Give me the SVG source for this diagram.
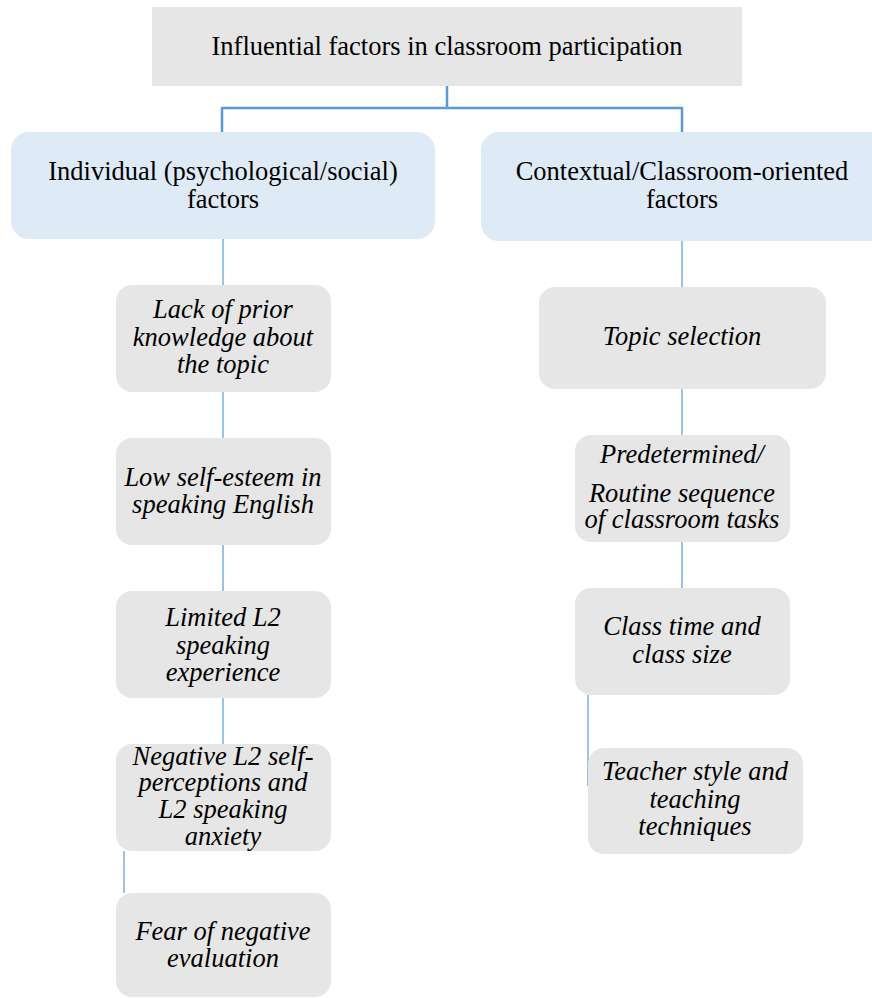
<svg xmlns="http://www.w3.org/2000/svg" width="872" height="998" viewBox="0 0 872 998">
<style>
.gray{fill:#e6e6e6}
.blue{fill:#deeaf6}
.c1{stroke:#5b9bd5;stroke-width:2.5;fill:none}
.c2{stroke:#9dc3e6;stroke-width:2;fill:none}
</style>
<rect width="872" height="998" fill="#fff"/>
<g id="connectors">
<path class="c1" d="M447 86V108M222 108H682M222 107V132M682 107V132"/>
<path class="c2" d="M223 239V285M223 392V438M223 545V591M223 698V744M124 851V893"/>
<path class="c2" d="M682 241V287M682 389V435M682 542V588M588 695V786"/>
</g>
<g id="root">
<rect class="gray" x="152" y="7" width="590" height="79"/>
<text font-family="Liberation Serif" font-size="26.5" text-anchor="middle" x="447" y="55">Influential factors in classroom participation</text>
</g>
<g id="individual">
<rect class="blue" x="11" y="132" width="424" height="107" rx="18"/>
<text font-family="Liberation Serif" font-size="26.5" text-anchor="middle" x="223" y="180">Individual (psychological/social)</text>
<text font-family="Liberation Serif" font-size="26.5" text-anchor="middle" x="223" y="208">factors</text>
</g>
<g id="contextual">
<rect class="blue" x="481" y="132" width="410" height="109" rx="18"/>
<text font-family="Liberation Serif" font-size="26.5" text-anchor="middle" x="682" y="180">Contextual/Classroom-oriented</text>
<text font-family="Liberation Serif" font-size="26.5" text-anchor="middle" x="682" y="208">factors</text>
</g>
<g id="lack">
<rect class="gray" x="116" y="285" width="215" height="107" rx="16"/>
<text font-family="Liberation Serif" font-style="italic" font-size="26.5" text-anchor="middle" x="223" y="318">Lack of prior</text>
<text font-family="Liberation Serif" font-style="italic" font-size="26.5" text-anchor="middle" x="223" y="346">knowledge about</text>
<text font-family="Liberation Serif" font-style="italic" font-size="26.5" text-anchor="middle" x="223" y="373">the topic</text>
</g>
<g id="lowesteem">
<rect class="gray" x="116" y="438" width="215" height="107" rx="16"/>
<text font-family="Liberation Serif" font-style="italic" font-size="26.5" text-anchor="middle" x="223" y="486">Low self-esteem in</text>
<text font-family="Liberation Serif" font-style="italic" font-size="26.5" text-anchor="middle" x="223" y="513">speaking English</text>
</g>
<g id="limited">
<rect class="gray" x="116" y="591" width="215" height="107" rx="16"/>
<text font-family="Liberation Serif" font-style="italic" font-size="26.5" text-anchor="middle" x="223" y="626">Limited L2</text>
<text font-family="Liberation Serif" font-style="italic" font-size="26.5" text-anchor="middle" x="223" y="654">speaking</text>
<text font-family="Liberation Serif" font-style="italic" font-size="26.5" text-anchor="middle" x="223" y="681">experience</text>
</g>
<g id="negative">
<rect class="gray" x="116" y="744" width="215" height="107" rx="16"/>
<text font-family="Liberation Serif" font-style="italic" font-size="26.5" text-anchor="middle" x="223" y="765">Negative L2 self-</text>
<text font-family="Liberation Serif" font-style="italic" font-size="26.5" text-anchor="middle" x="223" y="791">perceptions and</text>
<text font-family="Liberation Serif" font-style="italic" font-size="26.5" text-anchor="middle" x="223" y="818">L2 speaking</text>
<text font-family="Liberation Serif" font-style="italic" font-size="26.5" text-anchor="middle" x="223" y="845">anxiety</text>
</g>
<g id="fear">
<rect class="gray" x="116" y="893" width="215" height="104" rx="16"/>
<text font-family="Liberation Serif" font-style="italic" font-size="26.5" text-anchor="middle" x="223" y="940">Fear of negative</text>
<text font-family="Liberation Serif" font-style="italic" font-size="26.5" text-anchor="middle" x="223" y="967">evaluation</text>
</g>
<g id="topic">
<rect class="gray" x="539" y="287" width="287" height="102" rx="16"/>
<text font-family="Liberation Serif" font-style="italic" font-size="26.5" text-anchor="middle" x="682" y="345">Topic selection</text>
</g>
<g id="predetermined">
<rect class="gray" x="575" y="435" width="215" height="107" rx="16"/>
<text font-family="Liberation Serif" font-style="italic" font-size="26.5" text-anchor="middle" x="682" y="463">Predetermined/</text>
<text font-family="Liberation Serif" font-style="italic" font-size="26.5" text-anchor="middle" x="682" y="502">Routine sequence</text>
<text font-family="Liberation Serif" font-style="italic" font-size="26.5" text-anchor="middle" x="682" y="528">of classroom tasks</text>
</g>
<g id="classtime">
<rect class="gray" x="575" y="588" width="215" height="107" rx="16"/>
<text font-family="Liberation Serif" font-style="italic" font-size="26.5" text-anchor="middle" x="682" y="635">Class time and</text>
<text font-family="Liberation Serif" font-style="italic" font-size="26.5" text-anchor="middle" x="682" y="663">class size</text>
</g>
<g id="teacher">
<rect class="gray" x="588" y="748" width="215" height="106" rx="16"/>
<text font-family="Liberation Serif" font-style="italic" font-size="26.5" text-anchor="middle" x="695" y="780">Teacher style and</text>
<text font-family="Liberation Serif" font-style="italic" font-size="26.5" text-anchor="middle" x="695" y="808">teaching</text>
<text font-family="Liberation Serif" font-style="italic" font-size="26.5" text-anchor="middle" x="695" y="835">techniques</text>
</g>
</svg>
